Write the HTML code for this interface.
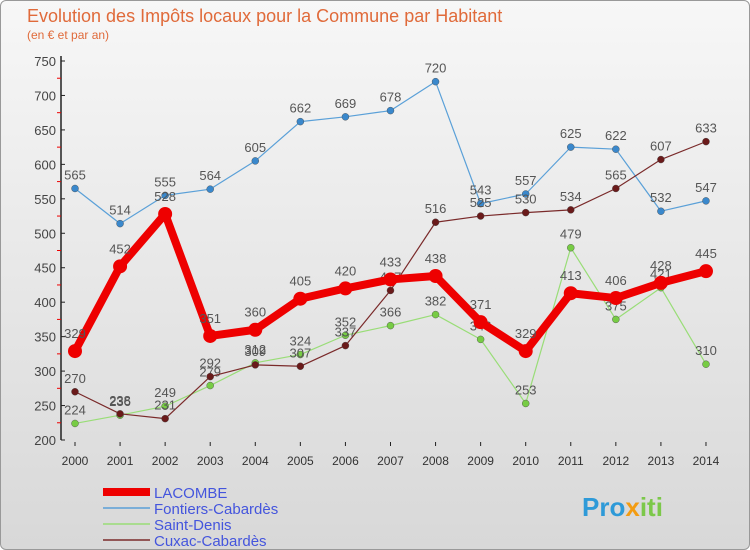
<!DOCTYPE html>
<html><head><meta charset="utf-8"><style>
body{margin:0;width:750px;height:550px;overflow:hidden;font-family:"Liberation Sans",sans-serif}
#wrap{position:absolute;left:0;top:0;width:748px;height:548px;border:1px solid #999;border-radius:6px;background:linear-gradient(#f7f7f7,#d8d8d8)}
</style></head><body>
<div id="wrap">
<svg id="c" width="750" height="550" style="position:absolute;left:-1px;top:-1px"></svg>
</div>
<script>
const years=["2000","2001","2002","2003","2004","2005","2006","2007","2008","2009","2010","2011","2012","2013","2014"];
const lacombe=[329,452,528,351,360,405,420,433,438,371,329,413,406,428,445];
const fontiers=[565,514,555,564,605,662,669,678,720,543,557,625,622,532,547];
const stdenis=[224,236,249,279,312,324,352,366,382,346,253,479,375,421,310];
const cuxac=[270,238,231,292,309,307,337,417,516,525,530,534,565,607,633];
const yTicks=[200,250,300,350,400,450,500,550,600,650,700,750];
const names=["LACOMBE","Fontiers-Cabardès","Saint-Denis","Cuxac-Cabardès"];
const NS="http://www.w3.org/2000/svg";
const svg=document.getElementById('c');
const X=i=>75+i*45.07;
const Y=v=>440-(v-200)*(379/550);
function mk(t,a,p){const e=document.createElementNS(NS,t);for(const k in a)e.setAttribute(k,a[k]);(p||svg).appendChild(e);return e;}
function txt(x,y,s,a,p){const e=mk('text',Object.assign({x:x,y:y},a),p);e.textContent=s;return e;}
const t1=txt(27,22,"Evolution des Impôts locaux pour la Commune par Habitant",{fill:"#e06a3a","font-size":"18"});

const t2=txt(27,39,"(en € et par an)",{fill:"#e06a3a","font-size":"12"});

const ax=mk('line',{x1:61,y1:56,x2:61,y2:440,stroke:"#222","stroke-width":1.5});

yTicks.forEach(v=>{mk('line',{x1:61,y1:Y(v),x2:65,y2:Y(v),stroke:"#222"});
 if(v<750)mk('line',{x1:57,y1:Y(v+25),x2:61,y2:Y(v+25),stroke:"#e00"});
 const t=txt(56,Y(v)+5,String(v),{fill:"#444","font-size":"13","text-anchor":"end"});
 });
years.forEach((y,i)=>{mk('line',{x1:X(i),y1:442,x2:X(i),y2:446,stroke:"#222"});
 const t=txt(X(i),465,y,{fill:"#333","font-size":"12","text-anchor":"middle"});
 });
function series(d,col,dot,w,r,name){
 const g=mk('g',{});
 mk('polyline',{points:d.map((v,i)=>X(i)+","+Y(v)).join(" "),fill:"none",stroke:col,"stroke-width":w,"stroke-linejoin":"round"},g);
 d.forEach((v,i)=>{const c=mk('circle',{cx:X(i),cy:Y(v),r:r,fill:dot,stroke:w>3?"none":"#444","stroke-width":0.4},g);
  
  txt(X(i),Y(v)-9-(w>3?4:0),String(v),{fill:"#555","font-size":"13","text-anchor":"middle"},g);});
}
series(fontiers,"#5aa0d8","#3a88cc",1.2,3.5,"series-fontiers");
series(stdenis,"#99dd77","#77cc44",1.2,3.5,"series-saint-denis");
series(cuxac,"#7a2a2a","#6a1a1a",1.2,3.5,"series-cuxac");
series(lacombe,"#ee0000","#ee0000",8,7,"series-lacombe");
const leg=[["#ee0000",8],["#5aa0d8",1.5],["#99dd77",1.5],["#7a2a2a",1.5]];
leg.forEach((l,i)=>{const y=492+i*16;const g=mk('g',{});
 mk('line',{x1:103,y1:y,x2:150,y2:y,stroke:l[0],"stroke-width":l[1]},g);
 txt(154,y+6,names[i],{fill:"#4455dd","font-size":"15"},g);});
const lg=mk('text',{x:582,y:516,"font-size":"26","font-weight":"bold"});

[["Pro","#2e9ad8"],["x","#f39c12"],["iti","#7cc84a"]].forEach(p=>{const s=mk('tspan',{fill:p[1]},lg);s.textContent=p[0];});
</script>
</body></html>
